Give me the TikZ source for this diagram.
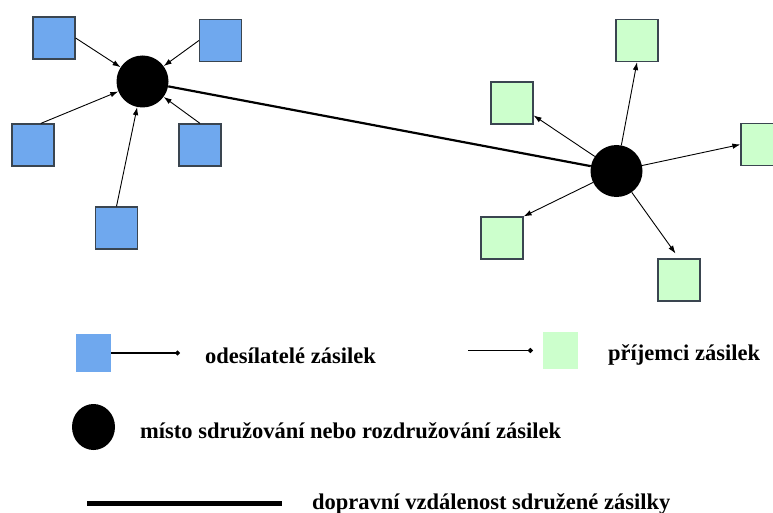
\documentclass[tikz,border=0pt]{standalone}
\usepackage{fontspec}
\setmainfont{Liberation Serif}
\usetikzlibrary{arrows.meta,shapes.geometric}
\definecolor{sendblue}{HTML}{6FA8EE}
\definecolor{recvgreen}{HTML}{CCFFCC}
\definecolor{boxedge}{HTML}{3A4550}
\begin{document}
\begin{tikzpicture}[x=1pt,y=-1pt,
 sender/.style={draw=boxedge,line width=1.2pt,fill=sendblue,minimum size=42pt,inner sep=0pt},
 receiver/.style={draw=boxedge,line width=1.2pt,fill=recvgreen,minimum size=42pt,inner sep=0pt},
 hub/.style={circle,fill=black,minimum size=52pt,inner sep=0pt},
 flow/.style={line width=0.9pt,-{Latex[length=8pt,width=5.5pt]}},
 trunk/.style={line width=2.2pt},
 legtext/.style={anchor=base west,inner sep=0pt,font=\fontsize{22.5}{27}\selectfont\bfseries},
 legline/.style={line width=1.1pt,-{Circle[length=5pt]}}]
\useasboundingbox (0,0) rectangle (773,513);
\clip (0,0) rectangle (773,513);
% senders
\node[sender] (s1) at (54,38) {};
\node[sender] (s2) at (220.5,40.5) {};
\node[sender] (s3) at (33,145) {};
\node[sender] (s4) at (200,145) {};
\node[sender] (s5) at (116.5,228) {};
% receivers
\node[receiver] (r1) at (637,40.5) {};
\node[receiver] (r2) at (512,103) {};
\node[receiver] (r3) at (762,144.5) {};
\node[receiver] (r4) at (502,238) {};
\node[receiver] (r5) at (679,280) {};
% hubs
\node[hub] (h1) at (142.5,81.5) {};
\node[hub] (h2) at (616.5,171) {};
% connectors
\draw[flow] (s1.east) -- (h1);
\draw[flow] (s2.west) -- (h1);
\draw[flow] (s3.70) -- (h1);
\draw[flow] (s4.north) -- (h1);
\draw[flow] (s5.north) -- (h1);
\draw[trunk] (h1) -- (h2);
\draw[flow] (h2) -- (r1.south);
\draw[flow] (h2) -- (r2.-30);
\draw[flow] (h2) -- (r3.west);
\draw[flow] (h2) -- (r4.north east);
\draw[flow,shorten >=6pt] (h2) -- (r5.north);
% legend
\node[fill=sendblue,minimum width=35pt,minimum height=38pt,inner sep=0pt] (lsend) at (93.5,353) {};
\coordinate (lsendend) at (180,353);
\draw[legline] (lsend.east) -- (lsendend);
\node[legtext] (tsend) at (205,363) {odesílatelé zásilek};
\node[fill=recvgreen,minimum width=35pt,minimum height=37pt,inner sep=0pt] (lrecv) at (560.5,350.5) {};
\coordinate (lrecvstart) at (468,350.5);
\draw[legline,shorten >=10pt] (lrecvstart) -- (lrecv.west);
\node[legtext] (trecv) at (608,360) {příjemci zásilek};
\node[ellipse,fill=black,minimum width=43pt,minimum height=46pt,inner sep=0pt] (lhub) at (93.5,427) {};
\node[legtext] (thub) at (140,438) {místo sdružování nebo rozdružování zásilek};
\coordinate (ltrunkA) at (87,503.5);
\coordinate (ltrunkB) at (282,503.5);
\draw[line width=4.5pt] (ltrunkA) -- (ltrunkB);
\node[legtext] (ttrunk) at (312,509) {dopravní vzdálenost sdružené zásilky};
\end{tikzpicture}
\end{document}
